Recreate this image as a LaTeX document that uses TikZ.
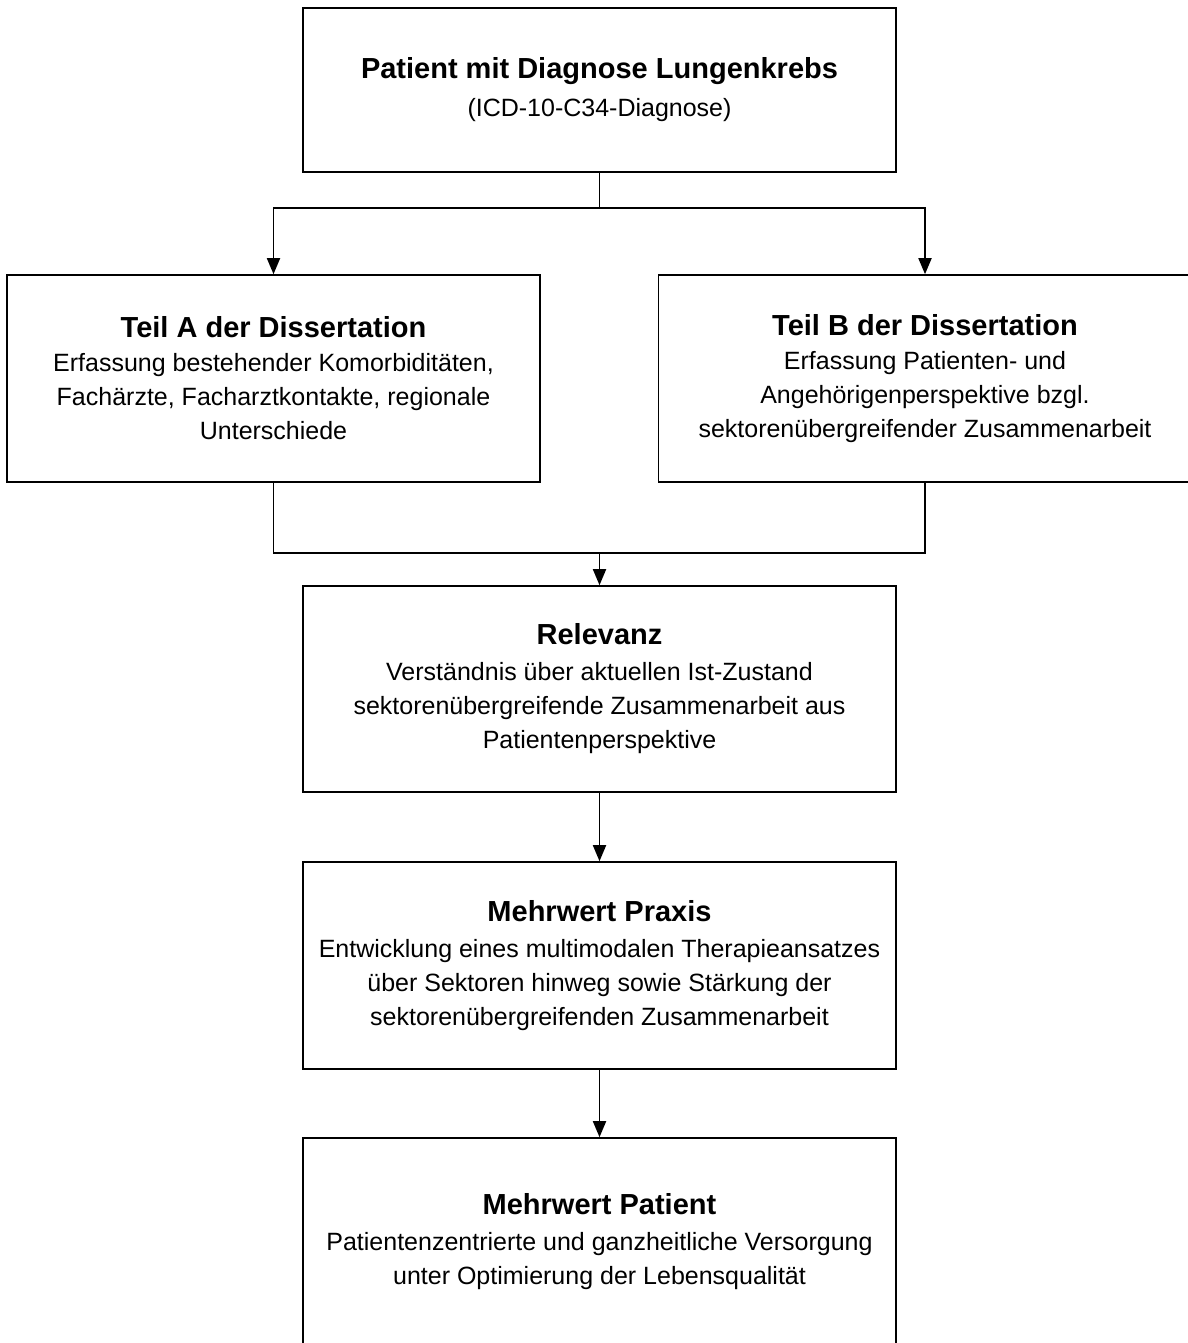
\documentclass[tikz,border=0pt]{standalone}
\usepackage{fontspec}
\setmainfont{Liberation Sans}
\usetikzlibrary{arrows.meta}
\tikzset{
  box/.style={draw=black, line width=1.6pt, fill=white, rectangle, inner sep=0pt,
    align=center, minimum width=593pt, minimum height=207pt,
    font=\fontsize{25}{34}\selectfont},
  widebox/.style={box, minimum width=533pt},
  conn/.style={draw=black, line width=1.8pt},
  arr/.style={conn, -{Triangle[length=16pt,width=13pt]}}
}
\newcommand{\ttl}[1]{{\fontsize{29}{34}\selectfont\bfseries #1}}
\begin{document}
\begin{tikzpicture}[x=1pt,y=-1pt]
\useasboundingbox[fill=white] (0,0) rectangle (1187,1343);
\node[box, minimum height=164pt] (top) at (599.5,90) {\ttl{Patient mit Diagnose Lungenkrebs}\\[4pt](ICD-10-C34-Diagnose)};
\node[widebox] (A) at (273.5,378.5) {\ttl{Teil A der Dissertation}\\Erfassung bestehender Komorbiditäten,\\Fachärzte, Facharztkontakte, regionale\\Unterschiede};
\node[widebox] (B) at (925,378.5) {\ttl{Teil B der Dissertation}\\Erfassung Patienten- und\\Angehörigenperspektive bzgl.\\sektorenübergreifender Zusammenarbeit};
\node[box, minimum height=206pt] (rel) at (599.5,689) {\ttl{Relevanz}\\[2pt]Verständnis über aktuellen Ist-Zustand\\sektorenübergreifende Zusammenarbeit aus\\Patientenperspektive};
\node[box] (pra) at (599.5,965.5) {\ttl{Mehrwert Praxis}\\[2pt]Entwicklung eines multimodalen Therapieansatzes\\über Sektoren hinweg sowie Stärkung der\\sektorenübergreifenden Zusammenarbeit};
\node[box] (pat) at (599.5,1241.5) {\ttl{Mehrwert Patient}\\[2pt]Patientenzentrierte und ganzheitliche Versorgung\\unter Optimierung der Lebensqualität};
\coordinate (j1) at (599.5,208);
\coordinate (j2) at (599.5,553);
\draw[conn] (top.south) -- (j1);
\draw[arr] (j1) -| (A.north);
\draw[arr] (j1) -| (B.north);
\draw[conn] (A.south) |- (j2) -| (B.south);
\draw[arr] (j2) -- (rel.north);
\draw[arr] (rel.south) -- (pra.north);
\draw[arr] (pra.south) -- (pat.north);
\end{tikzpicture}
\end{document}
